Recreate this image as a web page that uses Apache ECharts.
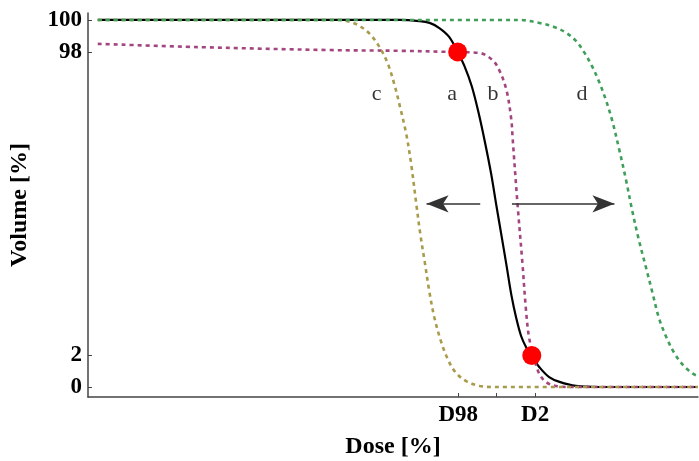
<!DOCTYPE html>
<html>
<head>
<meta charset="utf-8">
<script src="https://cdn.jsdelivr.net/npm/echarts@6/dist/echarts.min.js"></script>
<style>html,body{margin:0;padding:0;background:#fff}#c{width:699px;height:461px}</style>
</head>
<body>
<div id="c"></div>
<script>
// Schematic DVH curves, values on the drawn (schematic) axis scale
const curveA = [[1.6,100],[51.1,100],[54.3,99.7],[56.0,99.2],[57.6,97.8],[59.2,95.4],[60.6,91.3],[61.7,87.5],[62.9,82.0],[64.0,74.9],[65.1,66.5],[66.1,58.0],[66.9,49.9],[67.8,41.1],[68.6,33.2],[69.4,25.1],[70.2,18.8],[71.0,13.9],[71.8,10.9],[72.7,8.4],[74.0,5.4],[75.6,2.7],[77.3,1.4],[80.0,0.3],[83.8,0],[100,0]];
const curveB = [[1.6,93.5],[18.3,92.6],[39.6,91.8],[51.1,91.6],[59.2,91.3],[64.2,91.0],[66.3,89.1],[67.4,86.4],[68.6,80.9],[69.4,72.8],[69.6,68.1],[70.4,50.1],[71.2,34.1],[71.8,21.0],[72.3,13.6],[73.2,7.4],[74.3,2.7],[76.1,0.5],[79.4,0],[100,0]];
const curveC = [[1.6,100],[41.2,100],[42.9,99.5],[44.5,98.4],[46.2,96.2],[47.8,92.6],[49.1,88.3],[50.2,82.6],[51.2,76.0],[52.2,68.7],[53.0,60.5],[53.8,50.1],[54.5,41.4],[55.2,34.1],[56.0,25.6],[56.8,18.8],[57.8,12.8],[58.9,7.9],[60.2,4.1],[62.0,1.6],[64.2,0.3],[66.6,0],[100,0]];
const curveD = [[1.6,100],[70.7,100],[74.0,99.2],[76.4,98.1],[78.4,96.5],[80.0,94.3],[81.3,91.3],[82.6,87.5],[83.8,83.1],[84.9,78.2],[85.9,72.8],[87.1,64.6],[88.2,56.4],[89.2,48.2],[90.3,40.1],[91.5,32.4],[92.5,25.9],[93.6,18.8],[94.8,13.6],[96.1,9.3],[97.7,5.7],[99.3,3.5],[100,3.0]];
const markers = [[60.6,91.3],[72.75,8.6]];
const curveLabels = ['c','a','b','d'];
const curveLabelX = [47.3,59.7,66.4,81.0];
const curveLabelY = 79.8;
const arrowLeft = [[64.3,49.9],[55.5,49.9]];
const arrowRight = [[69.5,49.9],[86.3,49.9]];
const yTickPos = [0, 8.7, 91.2, 100];
const yTickText = ['0','2','98','100'];
const xTickPos = [60.7, 66.9, 73.3];
const xLabelPos = [60.7, 73.3];
const xLabelText = ['D98','D2'];

const serif = '"Liberation Serif","Times New Roman",serif';
function near(arr, txt, v){ let bi=0,bd=1e9; arr.forEach((p,i)=>{const d=Math.abs(p-v); if(d<bd){bd=d;bi=i;}}); return bd<0.5?txt[bi]:''; }

const chart = echarts.init(document.getElementById('c'));
const dotted = (color)=>({color, width:2.6, type:[4,4]});
chart.setOption({
  animation:false,
  grid:{left:88,right:1,top:13,bottom:64,outerBoundsMode:'none',containLabel:false},
  xAxis:{type:'value',min:0,max:100,
    name:'Dose [%]',nameLocation:'middle',nameGap:38,
    nameTextStyle:{fontFamily:serif,fontWeight:'bold',fontSize:24,color:'#000'},
    axisLine:{onZero:false,lineStyle:{color:'#444',width:1.5}},
    axisTick:{inside:true,length:4,customValues:xTickPos,lineStyle:{color:'#444',width:1}},
    axisLabel:{customValues:xLabelPos,margin:7,fontFamily:serif,fontWeight:'bold',fontSize:23,color:'#000',
      formatter:v=>near(xLabelPos,xLabelText,v)},
    splitLine:{show:false}},
  yAxis:{type:'value',min:-2.72,max:101.9,
    name:'Volume [%]',nameLocation:'middle',nameGap:56,nameRotate:90,
    nameTextStyle:{fontFamily:serif,fontWeight:'bold',fontSize:24,color:'#000'},
    axisLine:{show:true,onZero:false,lineStyle:{color:'#444',width:1.5}},
    axisTick:{show:true,inside:true,length:4,customValues:yTickPos,lineStyle:{color:'#444',width:1}},
    axisLabel:{customValues:yTickPos,margin:6,fontFamily:serif,fontWeight:'bold',fontSize:23,color:'#000',
      formatter:v=>near(yTickPos,yTickText,v)},
    splitLine:{show:false}},
  series:[
    {name:'a',type:'line',data:curveA,smooth:0.35,showSymbol:false,lineStyle:{color:'#000',width:2.2},z:2,
      markLine:{silent:true,symbol:['none','arrow'],symbolSize:[13,22],
        lineStyle:{color:'#333',width:1.6,type:'solid'},label:{show:false},
        data:[[{coord:arrowLeft[0]},{coord:arrowLeft[1]}],[{coord:arrowRight[0]},{coord:arrowRight[1]}]]}},
    {name:'b',type:'line',data:curveB,smooth:0.35,showSymbol:false,lineStyle:dotted('#a3457f'),z:3},
    {name:'c',type:'line',data:curveC,smooth:0.35,showSymbol:false,lineStyle:dotted('#a99b4c'),z:3},
    {name:'d',type:'line',data:curveD,smooth:0.35,showSymbol:false,lineStyle:dotted('#3f9f5a'),z:3},
    {name:'markers',type:'scatter',data:markers,symbolSize:19,itemStyle:{color:'#ff0000',opacity:1},z:5},
    {name:'labels',type:'scatter',symbolSize:0,z:4,
      data:curveLabels.map((t,i)=>({value:[curveLabelX[i],curveLabelY],name:t})),
      label:{show:true,position:'inside',formatter:p=>p.name,fontFamily:serif,fontSize:22,color:'#000'}}
  ]
});
</script>
</body>
</html>
